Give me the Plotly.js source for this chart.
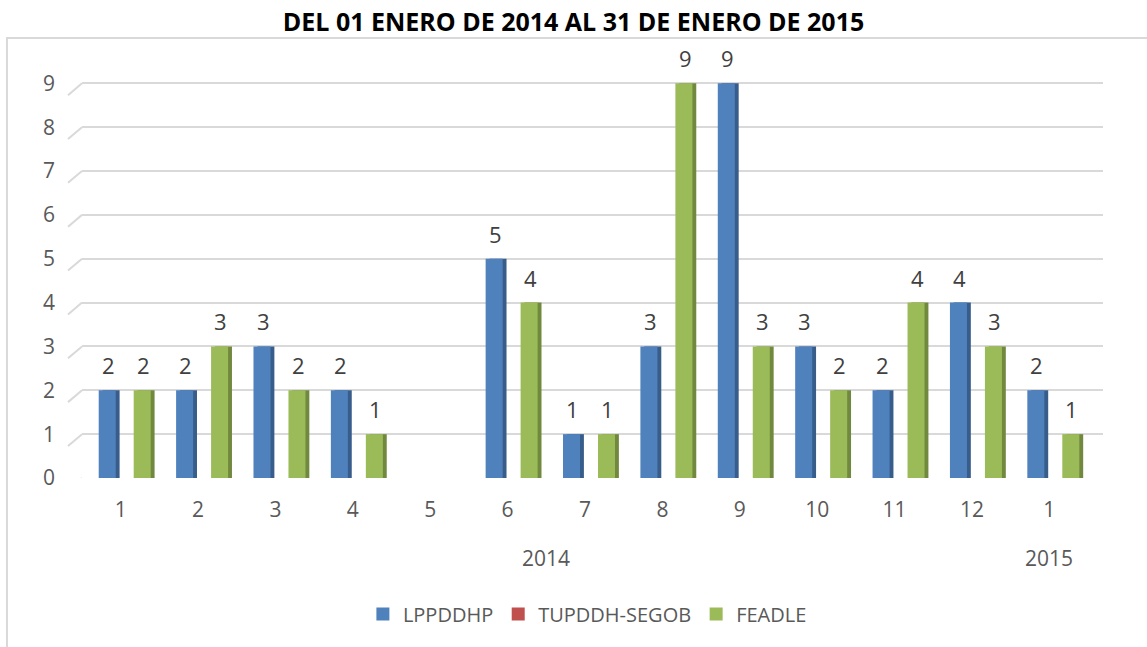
<!DOCTYPE html>
<html><head><meta charset="utf-8">
<script src="https://cdn.plot.ly/plotly-3.0.1.min.js"></script>
<style>html,body{margin:0;padding:0;background:#fff}#chart{width:1147px;height:647px}</style>
</head><body><div id="chart"></div>
<script>
const months = ['1','2','3','4','5','6','7','8','9','10','11','12','1'];
const years = ['2014','2014','2014','2014','2014','2014','2014','2014','2014','2014','2014','2014','2015'];
const lppddhp = [2,2,3,2,null,5,1,3,9,3,2,4,2];
const tupddhSegob = [null,null,null,null,null,null,null,null,null,null,null,null,null];
const feadle = [2,3,2,1,null,4,1,9,3,2,4,3,1];
const yTicks = [0,1,2,3,4,5,6,7,8,9];

const x = months.map((m, i) => i);
const W = 0.22, SIDE = 0.05;
const OFF = {blue: -0.284, red: -0.06, green: 0.168};
const COL = {blue: '#4F81BD', blueSide: '#385D8A', red: '#C0504D', green: '#9BBB59', greenSide: '#71893F'};
const FONT = 'Open Sans, Liberation Sans, sans-serif';

function bar(y, off, color, name) {
  return {type: 'bar', x: x, y: y, width: W, offset: off, name: name,
    marker: {color: color}, showlegend: false, hoverinfo: 'x+y+name'};
}
function legendProxy(name, color) {
  return {type: 'scatter', mode: 'markers', x: [null], y: [null], name: name,
    marker: {symbol: 'square', size: 13, color: color}, showlegend: true, hoverinfo: 'skip'};
}
const data = [
  bar(lppddhp, OFF.blue + SIDE, COL.blueSide, 'LPPDDHP'),
  bar(lppddhp, OFF.blue, COL.blue, 'LPPDDHP'),
  bar(tupddhSegob, OFF.red, COL.red, 'TUPDDH-SEGOB'),
  bar(feadle, OFF.green + SIDE, COL.greenSide, 'FEADLE'),
  bar(feadle, OFF.green, COL.green, 'FEADLE'),
  legendProxy('LPPDDHP', COL.blue),
  legendProxy('TUPDDH-SEGOB', COL.red),
  legendProxy('FEADLE', COL.green)
];

const annotations = [];
function labels(vals, off) {
  vals.forEach((v, i) => {
    if (v === null) return;
    annotations.push({x: i + off + W / 2 + 0.015, y: v, xref: 'x', yref: 'y', text: String(v),
      showarrow: false, yshift: 25, yanchor: 'middle', xanchor: 'center',
      font: {family: FONT, size: 22, color: '#404040'}});
  });
}
labels(lppddhp, OFF.blue);
labels(feadle, OFF.green);

const uniqYears = [...new Set(years)];
uniqYears.forEach(yr => {
  const idx = years.map((y, i) => y === yr ? i : null).filter(v => v !== null);
  const mid = idx.reduce((a, b) => a + b, 0) / idx.length;
  annotations.push({x: mid, y: -0.19, xref: 'x', yref: 'paper', text: yr, showarrow: false,
    yanchor: 'middle', xanchor: 'center', font: {family: FONT, size: 21, color: '#595959'}});
});

// perspective stubs at the left end of each gridline
const shapes = yTicks.map(v => ({type: 'line', xref: 'paper', yref: 'y',
  x0: -14 / 1021, x1: 0, y0: v - 0.27, y1: v, line: {color: '#D9D9D9', width: 2}, layer: 'below'}));
shapes.push({type: 'rect', xref: 'paper', yref: 'paper', x0: -0.0735, x1: 1.2, y0: -0.7, y1: 1.045,
  line: {color: '#D9D9D9', width: 2}, fillcolor: 'rgba(0,0,0,0)', layer: 'below'});

const layout = {
  width: 1147, height: 647,
  margin: {l: 82, r: 44, t: 57, b: 169},
  paper_bgcolor: '#ffffff', plot_bgcolor: '#ffffff',
  barmode: 'overlay',
  title: {text: 'DEL 01 ENERO DE 2014 AL 31 DE ENERO DE 2015', x: 0.5, xanchor: 'center',
    y: 1 - 22 / 647, yref: 'container', yanchor: 'middle',
    font: {family: FONT, size: 25, color: '#000000', weight: 'bold'}},
  xaxis: {range: [-0.5, 12.694], tickvals: x, ticktext: months, showgrid: false, zeroline: false,
    showline: false, ticks: '', ticklabelstandoff: 17,
    tickfont: {family: FONT, size: 21, color: '#595959'}, fixedrange: true},
  yaxis: {range: [0, 9.6], tickvals: yTicks, ticktext: yTicks.map(String), showgrid: true,
    gridcolor: '#D9D9D9', gridwidth: 2, zeroline: false, showline: false, ticks: '',
    ticklabelstandoff: 26, tickfont: {family: FONT, size: 21, color: '#595959'}, fixedrange: true},
  legend: {orientation: 'h', x: 0.495, xanchor: 'center', y: -0.323, yanchor: 'middle',
    font: {family: FONT, size: 20, color: '#595959'}, traceorder: 'normal', itemwidth: 30},
  annotations: annotations,
  shapes: shapes
};

Plotly.newPlot('chart', data, layout, {displayModeBar: false, staticPlot: true});
</script></body></html>
